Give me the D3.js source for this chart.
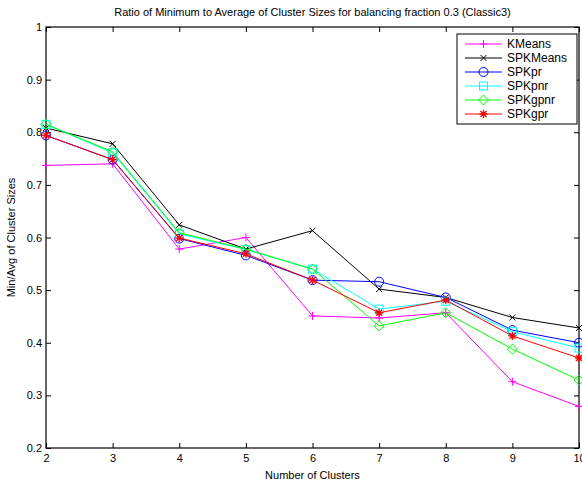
<!DOCTYPE html>
<html>
<head>
<meta charset="utf-8">
<script src="https://cdn.jsdelivr.net/npm/d3@7"></script>
<style>
  html, body { margin: 0; padding: 0; background: #fff; }
  svg { display: block; font-family: "Liberation Sans", Arial, Helvetica, sans-serif; }
</style>
</head>
<body>
<svg id="chart" width="582" height="482"></svg>
<script>
// Number of clusters on the x axis
const clusters = [2, 3, 4, 5, 6, 7, 8, 9, 10];

// Min/avg cluster size ratio for each algorithm
const kmeans   = [0.737, 0.740, 0.578, 0.600, 0.451, 0.447, 0.457, 0.326, 0.279];
const spkmeans = [0.808, 0.778, 0.624, 0.578, 0.613, 0.502, 0.486, 0.448, 0.428];
const spkpr    = [0.794, 0.748, 0.598, 0.566, 0.519, 0.516, 0.486, 0.424, 0.400];
const spkpnr   = [0.815, 0.761, 0.607, 0.577, 0.540, 0.464, 0.479, 0.421, 0.390];
const spkgpnr  = [0.815, 0.763, 0.609, 0.578, 0.540, 0.432, 0.457, 0.388, 0.329];
const spkgpr   = [0.794, 0.748, 0.599, 0.569, 0.519, 0.457, 0.481, 0.413, 0.371];

const xTicks = [2, 3, 4, 5, 6, 7, 8, 9, 10];
const yTicks = [0.2, 0.3, 0.4, 0.5, 0.6, 0.7, 0.8, 0.9, 1];

const series = [
  { name: "KMeans",   values: kmeans,   color: "#ff00ff", marker: "plus" },
  { name: "SPKMeans", values: spkmeans, color: "#000000", marker: "cross" },
  { name: "SPKpr",    values: spkpr,    color: "#0000ff", marker: "circle" },
  { name: "SPKpnr",   values: spkpnr,   color: "#00ffff", marker: "square" },
  { name: "SPKgpnr",  values: spkgpnr,  color: "#00ff00", marker: "diamond" },
  { name: "SPKgpr",   values: spkgpr,   color: "#ff0000", marker: "star" }
];

const svg = d3.select("#chart");
const plotLeft = 46, plotRight = 579, plotTop = 27, plotBottom = 448;

const x = d3.scaleLinear().domain([2, 10]).range([plotLeft, plotRight]);
const y = d3.scaleLinear().domain([0.2, 1]).range([plotBottom, plotTop]);

// Title
svg.append("text")
  .attr("x", (plotLeft + plotRight) / 2).attr("y", 16)
  .attr("text-anchor", "middle")
  .attr("font-size", 11)
  .text("Ratio of Minimum to Average of Cluster Sizes for balancing fraction 0.3 (Classic3)");

// Axes with inward ticks on all four sides
const tickLen = 5;
const axisStyle = g => {
  g.select(".domain").remove();
  g.selectAll("line").attr("stroke", "#000");
  g.selectAll("text").attr("font-size", 11).attr("fill", "#000");
};

svg.append("g")
  .attr("transform", `translate(0,${plotBottom})`)
  .call(d3.axisBottom(x).tickValues(xTicks).tickFormat(d3.format("d"))
    .tickSizeInner(-tickLen).tickSizeOuter(0).tickPadding(6))
  .call(axisStyle);

svg.append("g")
  .attr("transform", `translate(0,${plotTop})`)
  .call(d3.axisTop(x).tickValues(xTicks).tickFormat("")
    .tickSizeInner(-tickLen).tickSizeOuter(0))
  .call(axisStyle);

svg.append("g")
  .attr("transform", `translate(${plotLeft},0)`)
  .call(d3.axisLeft(y).tickValues(yTicks).tickFormat(d => d === 1 ? "1" : d3.format(".1f")(d))
    .tickSizeInner(-tickLen).tickSizeOuter(0).tickPadding(4))
  .call(axisStyle);

svg.append("g")
  .attr("transform", `translate(${plotRight},0)`)
  .call(d3.axisRight(y).tickValues(yTicks).tickFormat("")
    .tickSizeInner(-tickLen).tickSizeOuter(0))
  .call(axisStyle);

// Plot box
svg.append("rect")
  .attr("x", plotLeft).attr("y", plotTop)
  .attr("width", plotRight - plotLeft).attr("height", plotBottom - plotTop)
  .attr("fill", "none").attr("stroke", "#000").attr("stroke-width", 1.2);

// Axis titles
svg.append("text")
  .attr("x", (plotLeft + plotRight) / 2).attr("y", 479)
  .attr("text-anchor", "middle").attr("font-size", 11)
  .text("Number of Clusters");

svg.append("text")
  .attr("transform", `translate(15,${(plotTop + plotBottom) / 2}) rotate(-90)`)
  .attr("text-anchor", "middle").attr("font-size", 11)
  .text("Min/Avg of Cluster Sizes");

// Marker drawing
function drawMarker(g, type, cx, cy, color) {
  const s = 4;
  const m = g.append("g").attr("transform", `translate(${cx},${cy})`)
    .attr("stroke", color).attr("fill", "none").attr("stroke-width", 1);
  if (type === "plus") {
    m.append("path").attr("d", `M${-s},0H${s}M0,${-s}V${s}`);
  } else if (type === "cross") {
    const c = 3;
    m.append("path").attr("d", `M${-c},${-c}L${c},${c}M${-c},${c}L${c},${-c}`);
  } else if (type === "circle") {
    m.append("circle").attr("r", 4.5);
  } else if (type === "square") {
    m.append("rect").attr("x", -4).attr("y", -4).attr("width", 8).attr("height", 8);
  } else if (type === "diamond") {
    m.append("path").attr("d", `M0,-5L5,0L0,5L-5,0Z`);
  } else if (type === "star") {
    const c = 3;
    m.append("path").attr("d", `M${-s},0H${s}M0,${-s}V${s}M${-c},${-c}L${c},${c}M${-c},${c}L${c},${-c}`)
      .attr("stroke-width", 1.3);
  }
}

const line = d3.line()
  .x((d, i) => x(clusters[i]))
  .y(d => y(d));

const plot = svg.append("g");
series.forEach(s => {
  const g = plot.append("g");
  g.append("path")
    .datum(s.values)
    .attr("d", line)
    .attr("fill", "none")
    .attr("stroke", s.color)
    .attr("stroke-width", 1);
  s.values.forEach((v, i) => drawMarker(g, s.marker, x(clusters[i]), y(v), s.color));
});

// Legend
const lg = svg.append("g");
const lx = 457, ly = 34, lw = 120, lh = 90;
lg.append("rect")
  .attr("x", lx).attr("y", ly).attr("width", lw).attr("height", lh)
  .attr("fill", "#fff").attr("stroke", "#000").attr("stroke-width", 1);

series.forEach((s, i) => {
  const yy = ly + 10 + i * 14;
  lg.append("line")
    .attr("x1", 465).attr("x2", 502).attr("y1", yy).attr("y2", yy)
    .attr("stroke", s.color).attr("stroke-width", 1);
  drawMarker(lg, s.marker, 483.5, yy, s.color);
  lg.append("text")
    .attr("x", 507).attr("y", yy + 4)
    .attr("font-size", 12)
    .text(s.name);
});
</script>
</body>
</html>
